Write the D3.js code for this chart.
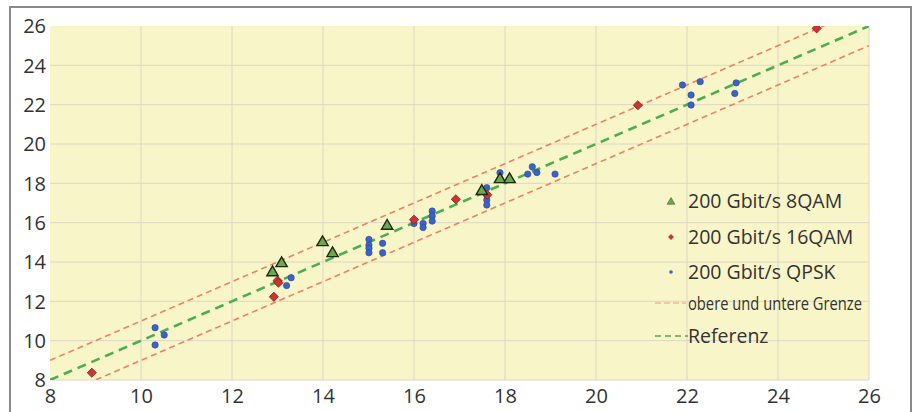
<!DOCTYPE html>
<html lang="de">
<head>
  <meta charset="UTF-8" />
  <title>200 Gbit/s Messwerte</title>
  <script src="https://d3js.org/d3.v7.min.js"></script>
  <style>
    body { margin: 0; background: #fff; font-family: "Open Sans", "Noto Sans", sans-serif; }
    svg { display: block; }
  </style>
</head>
<body>
  <div id="chart"></div>
  <script>
    // ---------- DATA ----------
    const ticks = [8, 10, 12, 14, 16, 18, 20, 22, 24, 26];

    const qam8X = [12.89, 13.09, 13.99, 14.21, 15.41, 17.49, 17.89, 18.1];
    const qam8Y = [13.47, 13.93, 15.0, 14.44, 15.83, 17.6, 18.2, 18.2];

    const qam16X = [8.92, 12.92, 13.0, 13.02, 16.0, 16.92, 17.61, 20.92, 24.85];
    const qam16Y = [8.37, 12.23, 13.05, 12.95, 16.15, 17.19, 17.42, 21.97, 25.88];

    const qpskX = [10.31, 10.51, 10.31, 13.3, 13.2, 15.01, 15.01, 15.01, 15.01, 15.31, 15.31,
                   16.0, 16.2, 16.2, 16.4, 16.4, 16.4, 17.6, 17.6, 17.6, 17.6, 17.89, 17.89,
                   18.5, 18.6, 18.7, 19.1, 21.9, 22.29, 22.09, 22.09, 23.08, 23.05];
    const qpskY = [10.66, 10.29, 9.78, 13.2, 12.8, 15.15, 14.86, 14.7, 14.47, 14.95, 14.47,
                   15.96, 15.96, 15.75, 16.59, 16.34, 16.08, 17.78, 17.4, 17.15, 16.9, 18.54, 18.2,
                   18.47, 18.84, 18.55, 18.47, 23.0, 23.17, 22.49, 21.98, 23.11, 22.57];

    const legendLabels = ["200 Gbit/s 8QAM", "200 Gbit/s 16QAM", "200 Gbit/s QPSK",
                          "obere und untere Grenze", "Referenz"];
    const tolerance = 1; // obere/untere Grenze = Referenz +/- 1

    // ---------- SETUP ----------
    const W = 917, H = 412;
    const margin = { left: 50, right: W - 869, top: 26, bottom: H - 380 };

    const svg = d3.select("#chart").append("svg").attr("width", W).attr("height", H);

    // outer frame
    svg.append("rect")
      .attr("x", 10).attr("y", 7).attr("width", 901).attr("height", 420)
      .attr("fill", "#fff").attr("stroke", "#8a8a8a").attr("stroke-width", 2);

    const x = d3.scaleLinear().domain([8, 26]).range([margin.left, W - margin.right]);
    const y = d3.scaleLinear().domain([8, 26]).range([H - margin.bottom, margin.top]);

    svg.append("defs").append("clipPath").attr("id", "clip")
      .append("rect")
      .attr("x", x(8)).attr("y", y(26))
      .attr("width", x(26) - x(8)).attr("height", y(8) - y(26));

    svg.append("rect")
      .attr("x", x(8)).attr("y", y(26))
      .attr("width", x(26) - x(8)).attr("height", y(8) - y(26))
      .attr("fill", "#f8f5c9");

    // grid
    const grid = svg.append("g");
    grid.selectAll(".vx").data(ticks.slice(1)).join("line")
      .attr("x1", d => x(d)).attr("x2", d => x(d))
      .attr("y1", y(26)).attr("y2", y(8))
      .attr("stroke", "#dcd6c2").attr("stroke-width", 1);
    grid.selectAll(".hy").data(ticks.slice(0, -1)).join("line")
      .attr("y1", d => y(d)).attr("y2", d => y(d))
      .attr("x1", x(8)).attr("x2", x(26))
      .attr("stroke", "#dcd6c2").attr("stroke-width", 1);

    // axes
    const xAxis = svg.append("g")
      .attr("transform", `translate(0,${y(8)})`)
      .call(d3.axisBottom(x).tickValues(ticks).tickSize(0).tickPadding(9));
    const yAxis = svg.append("g")
      .attr("transform", `translate(${x(8)},0)`)
      .call(d3.axisLeft(y).tickValues(ticks).tickSize(0).tickPadding(4));
    [xAxis, yAxis].forEach(a => {
      a.select(".domain").remove();
      a.selectAll("text")
        .attr("fill", "#333")
        .style("font-family", "'Open Sans', 'Noto Sans', sans-serif")
        .style("font-size", "20px");
    });
    xAxis.selectAll("text").attr("dy", "0.71em");
    yAxis.selectAll("text").attr("dy", "0.34em");

    // reference lines
    const plot = svg.append("g").attr("clip-path", "url(#clip)");
    const line = d3.line().x(d => x(d[0])).y(d => y(d[1]));
    [tolerance, -tolerance].forEach(off => {
      plot.append("path")
        .attr("d", line([[8, 8 + off], [26, 26 + off]]))
        .attr("fill", "none").attr("stroke", "#ea8266")
        .attr("stroke-width", 1.6).attr("stroke-dasharray", "6,4");
    });
    plot.append("path")
      .attr("d", line([[8, 8], [26, 26]]))
      .attr("fill", "none").attr("stroke", "#4cae50")
      .attr("stroke-width", 2.6).attr("stroke-dasharray", "9,6");

    // points
    const tri = d3.symbol().type(d3.symbolTriangle).size(55);
    const sq = d3.symbol().type(d3.symbolSquare).size(42);

    plot.selectAll(".qpsk").data(d3.zip(qpskX, qpskY)).join("circle")
      .attr("cx", d => x(d[0])).attr("cy", d => y(d[1])).attr("r", 3.2)
      .attr("fill", "#3b62c4").attr("stroke", "#2c4a9a").attr("stroke-width", 0.6);

    plot.selectAll(".q16").data(d3.zip(qam16X, qam16Y)).join("path")
      .attr("d", sq)
      .attr("transform", d => `translate(${x(d[0])},${y(d[1])}) rotate(45)`)
      .attr("fill", "#cc3333").attr("stroke", "#8a1f1f").attr("stroke-width", 0.8);

    plot.selectAll(".q8").data(d3.zip(qam8X, qam8Y)).join("path")
      .attr("d", tri)
      .attr("transform", d => `translate(${x(d[0])},${y(d[1])})`)
      .attr("fill", "#6da84e").attr("stroke", "#1d2a12").attr("stroke-width", 1.4);

    // legend
    const lg = svg.append("g");
    const rowY = [201, 237, 272, 303, 336];
    const mx = 671, tx = 688;
    lg.append("path").attr("d", d3.symbol().type(d3.symbolTriangle).size(26))
      .attr("transform", `translate(${mx},${rowY[0] + 1})`)
      .attr("fill", "#6da84e").attr("stroke", "#3c5e2a").attr("stroke-width", 0.6);
    lg.append("path").attr("d", d3.symbol().type(d3.symbolSquare).size(18))
      .attr("transform", `translate(${mx},${rowY[1]}) rotate(45)`)
      .attr("fill", "#cc3333");
    lg.append("circle").attr("cx", mx).attr("cy", rowY[2]).attr("r", 1.8).attr("fill", "#3b62c4");
    lg.append("line").attr("x1", 655).attr("x2", 686).attr("y1", rowY[3]).attr("y2", rowY[3])
      .attr("stroke", "#ea9a80").attr("stroke-width", 1).attr("stroke-dasharray", "6,3");
    lg.append("line").attr("x1", 655).attr("x2", 688).attr("y1", rowY[4]).attr("y2", rowY[4])
      .attr("stroke", "#4cae50").attr("stroke-width", 1.4).attr("stroke-dasharray", "6,4");

    lg.selectAll("text").data(legendLabels).join("text")
      .attr("x", tx).attr("y", (d, i) => rowY[i])
      .attr("dy", "0.35em")
      .attr("fill", "#333")
      .style("font-family", "'Open Sans', 'Noto Sans', sans-serif")
      .style("font-size", (d, i) => i === 3 ? "19px" : "19.5px")
      .each(function (d, i) {
        if (i === 3) d3.select(this).attr("textLength", 174).attr("lengthAdjust", "spacingAndGlyphs");
      })
      .text(d => d);
  </script>
</body>
</html>
